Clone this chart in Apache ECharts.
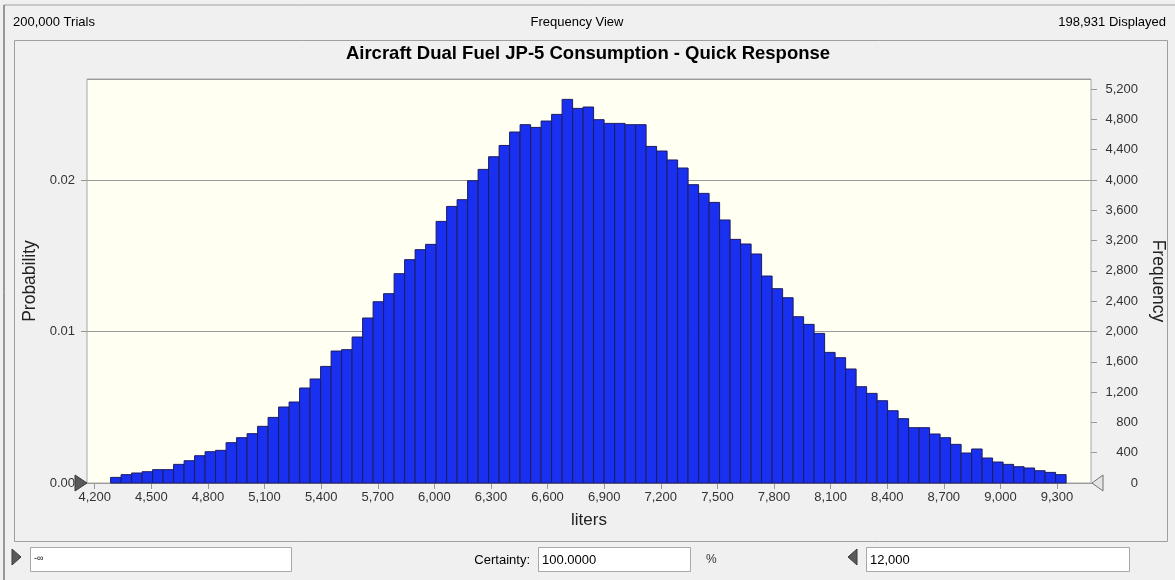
<!DOCTYPE html>
<html>
<head>
<meta charset="utf-8">
<script src="https://cdn.jsdelivr.net/npm/echarts@6/dist/echarts.min.js"></script>
<style>
  html, body { margin: 0; padding: 0; background: #f0f0f0; }
  #chart { width: 1175px; height: 580px; }
</style>
</head>
<body>
<div id="chart"></div>
<script>
// histogram bins (liters) and counts
const totalTrials = 200000;
const binStart = 4284;
const binWidth = 55.65;
const frequency = [
  74, 110, 132, 149, 176, 176, 246, 294, 360, 413,
  431, 532, 598, 651, 748, 866, 1003, 1069, 1254, 1373,
  1539, 1742, 1760, 1927, 2178, 2393, 2499, 2763, 2948, 3080,
  3150, 3453, 3651, 3740, 3990, 4140, 4307, 4456, 4633, 4730,
  4694, 4778, 4866, 5064, 4945, 4963, 4796, 4747, 4747, 4730,
  4730, 4443, 4382, 4264, 4158, 3938, 3823, 3704, 3472, 3216,
  3155, 3023, 2732, 2565, 2446, 2195, 2094, 1975, 1724, 1654,
  1505, 1271, 1183, 1086, 954, 849, 730, 730, 647, 598,
  510, 396, 449, 330, 277, 246, 215, 198, 162, 140, 110
];
const xTicks = [4200, 4500, 4800, 5100, 5400, 5700, 6000, 6300, 6600, 6900,
  7200, 7500, 7800, 8100, 8400, 8700, 9000, 9300];
const xMin = 4159;
const xMax = 9480;
const freqMax = 5333;

const chart = echarts.init(document.getElementById('chart'));

const bins = frequency.map((f, i) => [binStart + i * binWidth, binStart + (i + 1) * binWidth, f]);

const fontFamily = '"Liberation Sans", Arial, sans-serif';
const fmt = v => Math.round(v).toLocaleString('en-US');

// plot rectangle (px)
const G = { left: 87, top: 79, width: 1004, height: 404 };

const option = {
  animation: false,
  backgroundColor: '#f0f0f0',
  textStyle: { fontFamily },
  grid: {
    left: G.left, top: G.top, width: G.width, height: G.height,
    show: true, backgroundColor: '#fffff2', borderColor: '#a8a8a8', borderWidth: 1
  },
  xAxis: {
    type: 'value',
    min: xMin,
    max: xMax,
    name: 'liters',
    nameLocation: 'middle',
    nameGap: 29,
    nameTextStyle: { fontSize: 17, color: '#222', fontFamily },
    axisLine: { show: false },
    splitLine: { show: false },
    axisTick: { show: true, length: 6, lineStyle: { color: '#999' }, customValues: xTicks },
    axisLabel: { fontSize: 13, color: '#333', margin: 8, customValues: xTicks, formatter: fmt }
  },
  yAxis: [
    {
      type: 'value',
      position: 'left',
      min: 0,
      max: freqMax / totalTrials,
      interval: 0.01,
      name: 'Probability',
      nameLocation: 'middle',
      nameGap: 44,
      nameTextStyle: { fontSize: 17.5, color: '#222', fontFamily },
      axisLine: { show: false },
      axisTick: { show: true, length: 6, lineStyle: { color: '#999' } },
      axisLabel: { fontSize: 13, color: '#333', margin: 12, showMaxLabel: false, formatter: v => v.toFixed(2) },
      splitLine: { show: true, lineStyle: { color: '#9a9a9a', width: 1 } }
    },
    {
      type: 'value',
      position: 'right',
      min: 0,
      max: freqMax,
      interval: 400,
      name: 'Frequency',
      nameLocation: 'middle',
      nameRotate: -90,
      nameGap: 50,
      nameTextStyle: { fontSize: 17.5, color: '#222', fontFamily },
      axisLine: { show: false },
      axisTick: { show: true, length: 6, lineStyle: { color: '#999' } },
      axisLabel: { fontSize: 13, color: '#333', margin: 47, align: 'right', showMaxLabel: false, formatter: fmt },
      splitLine: { show: false }
    }
  ],
  series: [{
    type: 'custom',
    xAxisIndex: 0,
    yAxisIndex: 1,
    encode: { x: [0, 1], y: 2 },
    data: bins,
    renderItem: function (params, api) {
      const p0 = api.coord([api.value(0), api.value(2)]);
      const p1 = api.coord([api.value(1), 0]);
      return {
        type: 'rect',
        shape: { x: p0[0], y: p0[1], width: p1[0] - p0[0], height: p1[1] - p0[1] },
        style: { fill: '#1a30f0', stroke: '#1c1c62', lineWidth: 1 }
      };
    }
  }],
  graphic: [
    // outer frame and chart panel
    { type: 'line', shape: { x1: 4, y1: 5, x2: 1175, y2: 5 }, style: { stroke: '#a0a0a0', lineWidth: 1 }, silent: true },
    { type: 'line', shape: { x1: 4, y1: 5, x2: 4, y2: 580 }, style: { stroke: '#404040', lineWidth: 1 }, silent: true },
    { type: 'rect', z: -1, shape: { x: 14.5, y: 40.5, width: 1153, height: 501 }, style: { fill: '#f0f0f0', stroke: '#a0a0a0', lineWidth: 1 }, silent: true },
    // header
    { type: 'text', x: 13, y: 22, style: { text: '200,000 Trials', fontSize: 13, fill: '#000', fontFamily, verticalAlign: 'middle' } },
    { type: 'text', x: 577, y: 22, style: { text: 'Frequency View', fontSize: 13, fill: '#000', fontFamily, align: 'center', verticalAlign: 'middle' } },
    { type: 'text', x: 1166, y: 22, style: { text: '198,931 Displayed', fontSize: 13, fill: '#000', fontFamily, align: 'right', verticalAlign: 'middle' } },
    { type: 'text', x: 588, y: 54, style: { text: 'Aircraft Dual Fuel JP-5 Consumption - Quick Response', fontSize: 18.5, fontWeight: 'bold', fill: '#000', fontFamily, align: 'center', verticalAlign: 'middle' } },
    // grabbers on the axis ends
    { type: 'polygon', z: 10, shape: { points: [[75, 475], [87, 483], [75, 491]] }, style: { fill: '#5a5a5a', stroke: '#3a3a3a', lineWidth: 1 } },
    { type: 'polygon', z: 10, shape: { points: [[1103, 475], [1092, 483], [1103, 491]] }, style: { fill: '#e4e4e4', stroke: '#707070', lineWidth: 1 } },
    // bottom controls
    { type: 'polygon', shape: { points: [[12, 549], [21, 557], [12, 565]] }, style: { fill: '#5a5a5a', stroke: '#3a3a3a', lineWidth: 1 } },
    { type: 'rect', shape: { x: 30.5, y: 547.5, width: 261, height: 24 }, style: { fill: '#fff', stroke: '#a8a8a8', lineWidth: 1 } },
    { type: 'text', x: 34, y: 559, style: { text: '-∞', fontSize: 9, fill: '#000', fontFamily, verticalAlign: 'middle' } },
    { type: 'text', x: 530, y: 560, style: { text: 'Certainty:', fontSize: 13, fill: '#000', fontFamily, align: 'right', verticalAlign: 'middle' } },
    { type: 'rect', shape: { x: 538.5, y: 547.5, width: 152, height: 24 }, style: { fill: '#fff', stroke: '#a8a8a8', lineWidth: 1 } },
    { type: 'text', x: 542, y: 560, style: { text: '100.0000', fontSize: 13, fill: '#000', fontFamily, verticalAlign: 'middle' } },
    { type: 'text', x: 706, y: 560, style: { text: '%', fontSize: 12, fill: '#333', fontFamily, verticalAlign: 'middle' } },
    { type: 'polygon', shape: { points: [[857, 549], [848, 557], [857, 565]] }, style: { fill: '#5a5a5a', stroke: '#3a3a3a', lineWidth: 1 } },
    { type: 'rect', shape: { x: 866.5, y: 547.5, width: 263, height: 24 }, style: { fill: '#fff', stroke: '#a8a8a8', lineWidth: 1 } },
    { type: 'text', x: 870, y: 560, style: { text: '12,000', fontSize: 13, fill: '#000', fontFamily, verticalAlign: 'middle' } }
  ]
};

chart.setOption(option);
</script>
</body>
</html>
